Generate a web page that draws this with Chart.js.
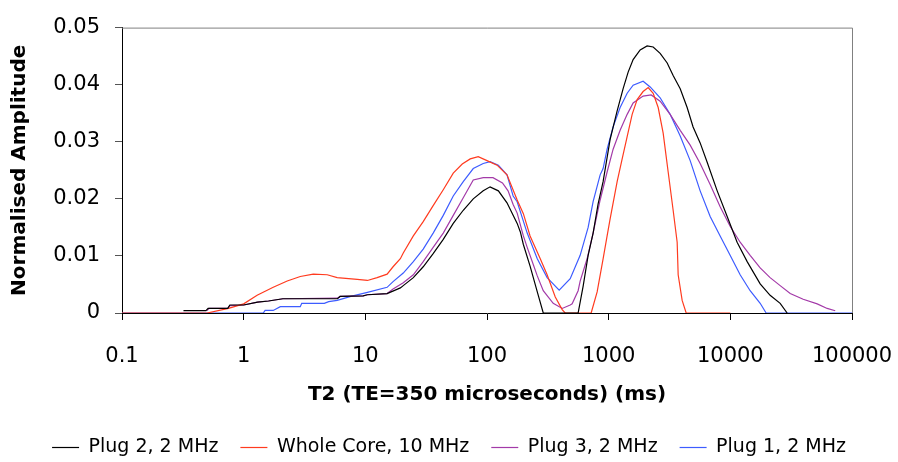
<!DOCTYPE html>
<html lang="en">
<head>
  <meta charset="UTF-8" />
  <title>T2 distributions</title>
  <script src="https://cdn.jsdelivr.net/npm/chart.js"></script>
  <style>
    html, body { margin: 0; padding: 0; background: #ffffff; }
    #wrap { position: relative; width: 898px; height: 462px; }
  </style>
</head>
<body>
  <div id="wrap"><canvas id="t2Chart"></canvas></div>
  <script>
    // tick labels
    const xTickValues = [0.1, 1, 10, 100, 1000, 10000, 100000];
    const xTickLabels = ['0.1', '1', '10', '100', '1000', '10000', '100000'];
    const yTickValues = [0, 0.01, 0.02, 0.03, 0.04, 0.05];
    const yTickLabels = ['0', '0.01', '0.02', '0.03', '0.04', '0.05'];

    const seriesNames = ['Plug 2, 2 MHz', 'Whole Core, 10 MHz', 'Plug 3, 2 MHz', 'Plug 1, 2 MHz'];

    // Plug 2, 2 MHz
    const plug2T2 = [0.32, 0.49, 0.51, 0.74, 0.77, 1.0, 1.3, 1.6, 2.1, 5.9, 6.2, 9.6, 10.4, 15.1, 19.4, 20.5, 24.8, 29.9, 36.1, 43.7, 52.8, 63.8, 77.1, 93.1, 106, 124, 146, 177, 188, 199, 226, 259, 290,
      561, 617, 678, 745, 819, 900, 1028, 1174, 1315, 1446, 1589, 1815, 2070, 2322, 2649, 3027, 3388, 3873, 4416, 4943, 5649, 6451, 7798, 9419, 11370, 13750, 17590, 21230, 25680, 29310];
    const plug2Amp = [0.0004, 0.0004, 0.0008, 0.0008, 0.0014, 0.0014, 0.0019, 0.0021, 0.0025, 0.0025, 0.0029, 0.003, 0.0032, 0.0034, 0.0044, 0.0048, 0.0062, 0.0081, 0.0104, 0.0129, 0.0157, 0.018, 0.02, 0.0214, 0.0221, 0.0214, 0.0193, 0.0157, 0.0142, 0.012, 0.0082, 0.0037, 0,
      0, 0.0047, 0.0101, 0.014, 0.0191, 0.023, 0.0304, 0.0354, 0.0393, 0.0422, 0.0444, 0.0461, 0.0468, 0.0466, 0.0455, 0.0438, 0.0416, 0.0393, 0.036, 0.0326, 0.0298, 0.0264, 0.0214, 0.0169, 0.0124, 0.009, 0.0051, 0.0031, 0.0017, 0];

    // Whole Core, 10 MHz
    const coreT2 = [0.1, 0.5, 0.75, 1.0, 1.29, 1.75, 2.28, 2.92, 3.73, 4.86, 5.87, 8.58, 10.4, 12.5, 15.1, 16.9, 19.4, 20.5, 24.8, 29.9, 36.1, 43.7, 52.8, 62.6, 72.8, 84.7, 100, 121, 146, 177, 199, 226, 274, 312, 364, 415, 439,
      718, 804, 900, 971, 1028, 1174, 1291, 1419, 1560, 1714, 1919, 2113, 2322, 2553, 2805, 3084, 3388, 3656, 3726, 4018, 4335, 10000];
    const coreAmp = [0, 0, 0.0008, 0.0016, 0.0031, 0.0045, 0.0056, 0.0064, 0.0068, 0.0067, 0.0062, 0.0059, 0.0057, 0.0062, 0.0068, 0.0081, 0.0095, 0.0105, 0.0135, 0.016, 0.0188, 0.0216, 0.0245, 0.0261, 0.027, 0.0274, 0.0267, 0.0259, 0.0242, 0.0198, 0.0174, 0.0135, 0.0095, 0.0067, 0.0028, 0.0006, 0,
      0, 0.0037, 0.0095, 0.0135, 0.0165, 0.023, 0.027, 0.0309, 0.0348, 0.0374, 0.0388, 0.0395, 0.0385, 0.036, 0.0315, 0.0247, 0.018, 0.0124, 0.0067, 0.0022, 0, 0];

    // Plug 3, 2 MHz
    const plug3T2 = [0.5, 0.52, 0.74, 0.77, 1.0, 1.3, 1.6, 2.1, 5.9, 6.2, 9.6, 10.4, 15.1, 16.9, 20.5, 24.8, 29.9, 36.1, 43.7, 52.8, 63.8, 77.1, 93.1, 112, 134, 149, 164, 177, 199, 214, 240, 259, 290, 350, 415, 483, 501, 561, 583, 665, 745, 851, 971, 1088, 1242, 1419, 1589, 1919, 2235, 2649, 3200, 3873, 4677, 5649, 6826, 8246, 9960, 12040, 14550, 17590, 21230, 25680, 31050, 39710, 51760, 62520, 72790];
    const plug3Amp = [0.0004, 0.0008, 0.0008, 0.0013, 0.0014, 0.0019, 0.0021, 0.0025, 0.0026, 0.0029, 0.003, 0.0032, 0.0034, 0.0042, 0.0053, 0.0067, 0.009, 0.0115, 0.014, 0.0171, 0.0202, 0.0233, 0.0237, 0.0237, 0.0228, 0.0214, 0.019, 0.0175, 0.0135, 0.0115, 0.0085, 0.0065, 0.0039, 0.0017, 0.0008, 0.0014, 0.0016, 0.0039, 0.0056, 0.0095, 0.014, 0.0198, 0.0247, 0.0287, 0.032, 0.0348, 0.0368, 0.038, 0.0382, 0.0371, 0.0348, 0.032, 0.0294, 0.0262, 0.0225, 0.0186, 0.0152, 0.0124, 0.0101, 0.0079, 0.0062, 0.0048, 0.0034, 0.0024, 0.0016, 0.0008, 0.0004];

    // Plug 1, 2 MHz
    const plug1T2 = [0.1, 1.45, 1.5, 1.75, 2.0, 2.92, 3.0, 4.6, 5.0, 5.87, 7.6, 10.4, 15.1, 16.9, 20.5, 24.8, 29.9, 36.1, 43.7, 52.8, 63.8, 77.1, 93.1, 106, 124, 146, 164, 177, 214, 259, 312, 392, 483, 583, 678, 745, 851, 900, 971, 1088, 1242, 1419, 1589, 1919, 2193, 2649, 3200, 3873, 4677, 5649, 6826, 8246, 9960, 12040, 14550, 17590, 19690, 100000];
    const plug1Amp = [0, 0, 0.00045, 0.00045, 0.0011, 0.0011, 0.0017, 0.0017, 0.002, 0.0022, 0.0029, 0.0036, 0.0045, 0.0055, 0.007, 0.009, 0.0112, 0.014, 0.0171, 0.0205, 0.023, 0.0253, 0.0262, 0.0265, 0.0259, 0.0242, 0.0205, 0.0195, 0.014, 0.0095, 0.0062, 0.004, 0.006, 0.0101, 0.015, 0.0195, 0.0242, 0.0253, 0.0287, 0.0326, 0.036, 0.0385, 0.0399, 0.0406, 0.0396, 0.0377, 0.0348, 0.031, 0.0267, 0.0214, 0.0169, 0.0135, 0.0101, 0.0067, 0.0039, 0.0017, 0, 0];

    const colors = ['#000000', '#ff3b1f', '#a33aa8', '#3d5cff'];
    const xs = [plug2T2, coreT2, plug3T2, plug1T2];
    const ys = [plug2Amp, coreAmp, plug3Amp, plug1Amp];

    const datasets = seriesNames.map((name, i) => ({
      label: name,
      data: xs[i].map((x, j) => ({ x: x, y: ys[i][j] })),
      borderColor: colors[i],
      backgroundColor: colors[i],
      borderWidth: 1.2,
      pointRadius: 0,
      tension: 0,
      fill: false
    }));

    // grey frame on top and right of the plot area
    const frame = {
      id: 'frame',
      afterDatasetsDraw(chart) {
        const a = chart.chartArea;
        const ctx = chart.ctx;
        ctx.save();
        ctx.strokeStyle = '#808080';
        ctx.lineWidth = 1;
        ctx.beginPath();
        ctx.moveTo(a.left, a.top + 0.5);
        ctx.lineTo(a.right + 0.5, a.top + 0.5);
        ctx.lineTo(a.right + 0.5, a.bottom);
        ctx.stroke();
        ctx.restore();
      }
    };

    const font = 'DejaVu Sans';

    new Chart(document.getElementById('t2Chart'), {
      type: 'line',
      data: { datasets: datasets },
      plugins: [frame],
      options: {
        responsive: true,
        maintainAspectRatio: false,
        animation: false,
        layout: { padding: { top: 17, right: 0, left: 0, bottom: -5 } },
        plugins: {
          tooltip: { enabled: false },
          legend: {
            position: 'bottom',
            labels: {
              color: '#000',
              font: { family: font, size: 19 },
              usePointStyle: true,
              pointStyle: 'line',
              pointStyleWidth: 27,
              padding: 22
            }
          }
        },
        scales: {
          x: {
            type: 'logarithmic',
            min: 0.1,
            max: 100000,
            afterBuildTicks: (s) => { s.ticks = xTickValues.map(v => ({ value: v })); },
            afterFit: (s) => { s.height = 103; s.paddingLeft = 0; s.paddingRight = 46; },
            ticks: {
              color: '#000',
              font: { family: font, size: 21 },
              padding: 24,
              maxRotation: 0,
              autoSkip: false,
              callback: (v, i) => xTickLabels[i]
            },
            grid: { drawOnChartArea: false, tickLength: 7, color: '#000' },
            border: { color: '#000', width: 1 },
            title: {
              display: true,
              text: 'T2 (TE=350 microseconds) (ms)',
              color: '#000',
              font: { family: font, size: 20, weight: 'bold' },
              padding: { top: 0, bottom: 9 }
            }
          },
          y: {
            min: 0,
            max: 0.05,
            afterBuildTicks: (s) => { s.ticks = yTickValues.map(v => ({ value: v })); },
            afterFit: (s) => { s.width = 122; },
            ticks: {
              color: '#000',
              font: { family: font, size: 21 },
              padding: 15,
              callback: (v, i) => yTickLabels[i]
            },
            grid: { drawOnChartArea: false, tickLength: 7, color: '#555' },
            border: { color: '#000', width: 1 },
            title: {
              display: true,
              text: 'Normalised Amplitude',
              color: '#000',
              font: { family: font, size: 20, weight: 'bold' },
              padding: { top: 8, bottom: 0 }
            }
          }
        }
      }
    });
  </script>
</body>
</html>
